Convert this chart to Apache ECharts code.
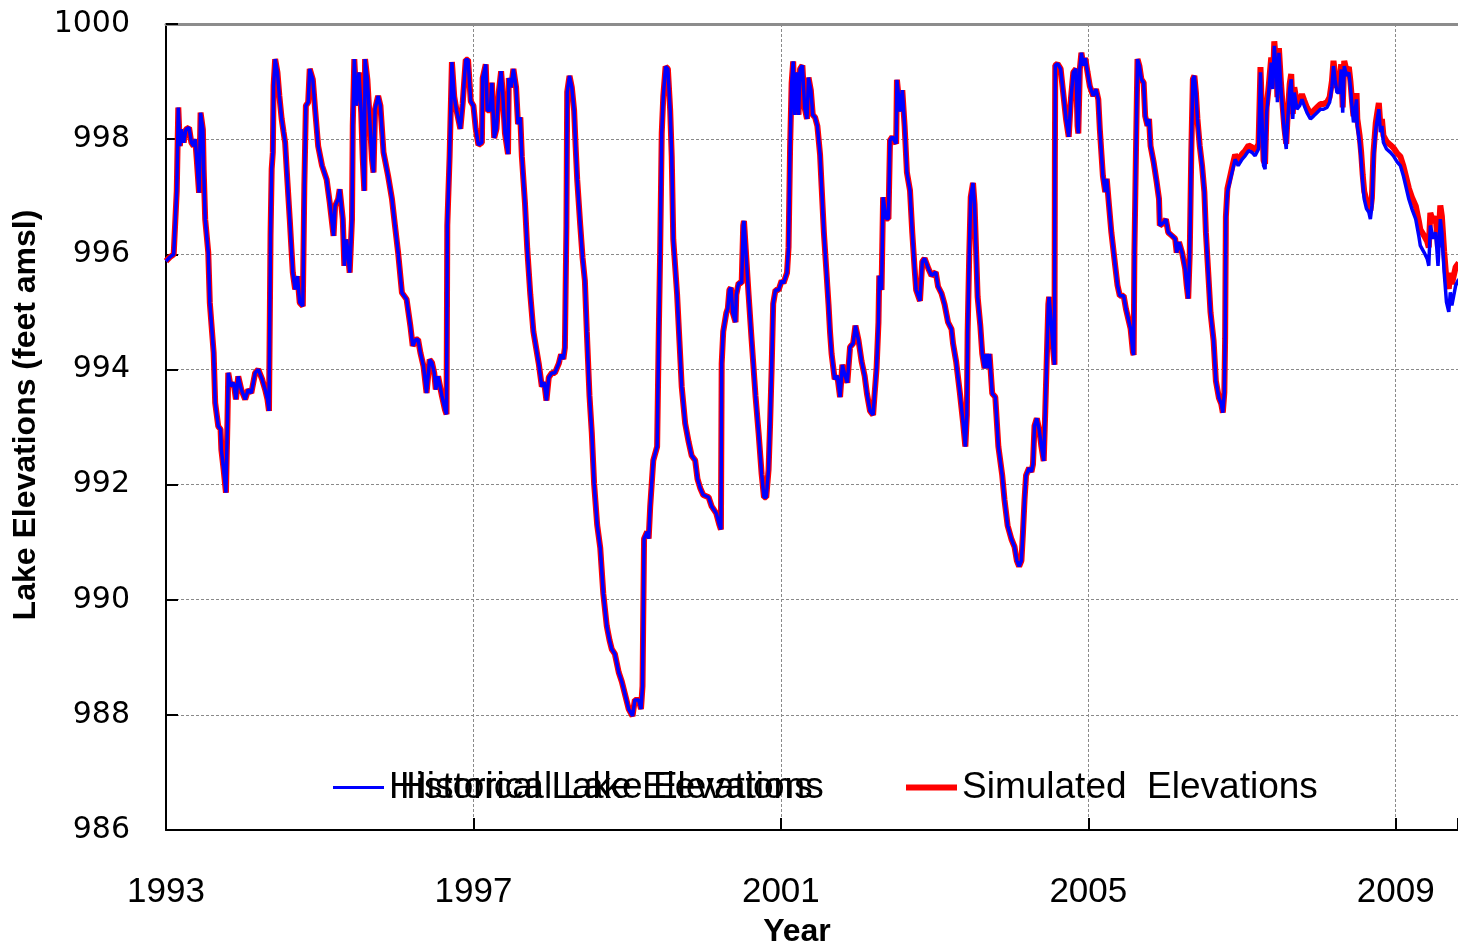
<!DOCTYPE html>
<html>
<head>
<meta charset="utf-8">
<script src="https://cdn.jsdelivr.net/npm/echarts@6/dist/echarts.min.js"></script>
<style>html,body{margin:0;padding:0;background:#fff}#c{width:1458px;height:946px}</style>
</head>
<body>
<div id="c"></div>
<script>
// Decimal years of the sampled points
const years = [
1993.00,1993.05,1993.10,1993.12,1993.14,1993.16,1993.18,1993.20,1993.23,1993.26,
1993.30,1993.33,1993.36,1993.38,1993.40,1993.43,1993.45,1993.48,1993.49,1993.51,
1993.55,1993.57,1993.62,1993.64,1993.68,1993.71,1993.72,1993.75,1993.78,1993.80,
1993.81,1993.84,1993.88,1993.91,1993.94,1993.98,1994.03,1994.07,1994.11,1994.16,
1994.20,1994.25,1994.29,1994.32,1994.34,1994.36,1994.375,1994.39,1994.40,1994.42,
1994.45,1994.475,1994.505,1994.53,1994.55,1994.57,1994.61,1994.65,1994.68,1994.71,
1994.74,1994.78,1994.80,1994.82,1994.85,1994.87,1994.91,1994.94,1994.98,1995.03,
1995.09,1995.13,1995.18,1995.20,1995.24,1995.26,1995.30,1995.32,1995.35,1995.39,
1995.42,1995.43,1995.45,1995.48,1995.51,1995.54,1995.56,1995.58,1995.59,1995.62,
1995.65,1995.68,1995.70,1995.72,1995.76,1995.79,1995.83,1995.89,1995.94,1995.98,
1996.02,1996.07,1996.13,1996.18,1996.21,1996.25,1996.28,1996.31,1996.35,1996.39,
1996.43,1996.46,1996.49,1996.51,1996.54,1996.59,1996.63,1996.65,1996.66,1996.69,
1996.72,1996.75,1996.78,1996.83,1996.86,1996.90,1996.93,1996.965,1997.00,1997.03,
1997.065,1997.11,1997.12,1997.16,1997.18,1997.22,1997.24,1997.27,1997.30,1997.33,
1997.36,1997.38,1997.41,1997.45,1997.46,1997.49,1997.52,1997.555,1997.58,1997.61,
1997.63,1997.67,1997.70,1997.74,1997.78,1997.85,1997.89,1997.92,1997.95,1997.98,
1998.02,1998.06,1998.11,1998.14,1998.17,1998.19,1998.21,1998.22,1998.25,1998.28,
1998.31,1998.33,1998.35,1998.39,1998.42,1998.45,1998.475,1998.51,1998.54,1998.57,
1998.61,1998.65,1998.69,1998.735,1998.77,1998.80,1998.84,1998.89,1998.93,1998.975,
1999.02,1999.07,1999.10,1999.15,1999.18,1999.20,1999.22,1999.26,1999.28,1999.30,
1999.32,1999.34,1999.39,1999.41,1999.43,1999.45,1999.47,1999.50,1999.53,1999.56,
1999.58,1999.60,1999.65,1999.68,1999.71,1999.755,1999.80,1999.84,1999.885,1999.915,
1999.95,1999.99,2000.06,2000.10,2000.16,2000.20,2000.22,2000.23,2000.25,2000.29,
2000.31,2000.33,2000.35,2000.375,2000.41,2000.42,2000.45,2000.49,2000.51,2000.52,
2000.55,2000.58,2000.62,2000.67,2000.71,2000.75,2000.78,2000.81,2000.84,2000.86,
2000.88,2000.90,2000.93,2000.97,2001.01,2001.035,2001.08,2001.10,2001.12,2001.14,
2001.16,2001.18,2001.21,2001.23,2001.25,2001.28,2001.31,2001.34,2001.36,2001.39,
2001.415,2001.445,2001.475,2001.51,2001.53,2001.56,2001.59,2001.62,2001.64,2001.66,
2001.70,2001.735,2001.77,2001.80,2001.835,2001.865,2001.90,2001.94,2001.97,2002.01,
2002.05,2002.09,2002.12,2002.16,2002.20,2002.22,2002.245,2002.27,2002.28,2002.31,
2002.33,2002.37,2002.40,2002.42,2002.45,2002.50,2002.51,2002.55,2002.58,2002.61,
2002.64,2002.68,2002.71,2002.74,2002.76,2002.81,2002.84,2002.87,2002.92,2002.96,
2003.015,2003.045,2003.09,2003.13,2003.175,2003.22,2003.24,2003.28,2003.33,2003.37,
2003.40,2003.42,2003.43,2003.45,2003.47,2003.50,2003.52,2003.54,2003.56,2003.595,
2003.62,2003.65,2003.67,2003.69,2003.715,2003.75,2003.79,2003.83,2003.88,2003.91,
2003.95,2004.00,2004.04,2004.07,2004.10,2004.13,2004.15,2004.17,2004.19,2004.23,
2004.26,2004.28,2004.30,2004.33,2004.36,2004.39,2004.42,2004.44,2004.46,2004.48,
2004.49,2004.52,2004.54,2004.56,2004.565,2004.57,2004.60,2004.64,2004.66,2004.69,
2004.71,2004.745,2004.775,2004.805,2004.84,2004.86,2004.87,2004.89,2004.91,2004.935,
2004.96,2004.99,2005.02,2005.065,2005.10,2005.13,2005.15,2005.19,2005.22,2005.24,
2005.27,2005.30,2005.35,2005.38,2005.41,2005.46,2005.49,2005.52,2005.55,2005.58,
2005.59,2005.60,2005.62,2005.64,2005.665,2005.69,2005.72,2005.74,2005.77,2005.79,
2005.81,2005.85,2005.89,2005.92,2005.93,2005.98,2006.01,2006.04,2006.09,2006.13,
2006.15,2006.18,2006.22,2006.26,2006.28,2006.30,2006.32,2006.34,2006.36,2006.38,
2006.40,2006.42,2006.45,2006.48,2006.51,2006.53,2006.56,2006.59,2006.63,2006.66,
2006.70,2006.73,2006.75,2006.77,2006.78,2006.79,2006.81,2006.85,2006.88,2006.91,
2006.95,2007.00,2007.04,2007.085,2007.13,2007.17,2007.215,2007.24,2007.26,2007.28,
2007.30,2007.32,2007.35,2007.38,2007.40,2007.42,2007.45,2007.46,2007.48,2007.505,
2007.53,2007.55,2007.575,2007.59,2007.62,2007.64,2007.66,2007.68,2007.715,2007.75,
2007.78,2007.81,2007.845,2007.89,2007.93,2007.975,2008.02,2008.06,2008.105,2008.14,
2008.17,2008.19,2008.21,2008.235,2008.27,2008.29,2008.31,2008.33,2008.36,2008.39,
2008.41,2008.43,2008.45,2008.49,2008.50,2008.53,2008.55,2008.57,2008.59,2008.62,
2008.65,2008.67,2008.69,2008.71,2008.74,2008.76,2008.78,2008.80,2008.82,2008.84,
2008.88,2008.93,2008.97,2009.02,2009.06,2009.10,2009.13,2009.17,2009.21,2009.26,
2009.30,2009.32,2009.37,2009.41,2009.43,2009.45,2009.49,2009.52,2009.55,2009.58,
2009.60,2009.63,2009.66,2009.69,2009.71,2009.73,2009.78,2009.82
];

// Historical Lake Elevations (feet amsl)
const historical = [
995.88,995.95,996.00,996.02,997.10,998.55,997.88,998.17,997.94,998.17,
998.20,997.94,997.88,998.00,997.65,997.07,998.46,998.17,997.48,996.61,
996.03,995.16,994.29,993.42,993.01,992.96,992.61,992.26,991.86,993.13,
993.94,993.71,993.77,993.48,993.88,993.65,993.48,993.65,993.59,993.94,
994.00,993.83,993.65,993.48,993.28,996.32,997.48,997.77,998.93,999.39,
999.16,998.75,998.35,998.12,997.94,997.48,996.61,995.68,995.39,995.62,
995.16,995.10,997.19,998.58,998.64,999.22,999.04,998.52,997.88,997.54,
997.30,996.90,996.32,996.84,996.96,997.13,996.61,995.80,996.26,995.68,
996.61,998.23,999.39,998.58,999.16,998.46,997.65,997.10,999.39,999.04,
998.35,997.65,997.42,998.52,998.75,998.58,997.77,997.36,996.96,996.49,
996.03,995.33,995.22,994.75,994.41,994.52,994.52,994.29,994.06,993.59,
994.17,994.12,993.94,993.65,993.88,993.54,993.30,993.22,996.50,997.70,
999.34,998.74,998.50,998.18,998.62,999.38,999.38,998.66,998.58,998.18,
997.90,997.94,999.06,999.30,998.50,998.50,998.98,998.02,998.18,998.82,
999.18,998.82,998.10,997.74,999.06,998.90,999.22,998.90,998.26,998.38,
997.70,996.90,996.10,995.30,994.66,994.10,993.70,993.78,993.46,993.86,
993.94,993.94,994.10,994.26,994.18,994.38,996.50,998.82,999.10,998.90,
998.50,997.86,997.30,996.50,995.94,995.54,994.66,993.54,992.90,992.02,
991.30,990.90,990.10,989.54,989.30,989.14,989.06,988.74,988.58,988.34,
988.10,987.98,988.26,988.26,988.10,988.50,991.06,991.18,991.06,991.62,
992.02,992.42,992.66,994.50,996.10,998.10,998.74,999.26,999.22,998.50,
997.70,996.26,995.30,994.50,993.70,993.06,992.74,992.50,992.42,992.10,
991.94,991.82,991.78,991.62,991.50,991.30,991.22,994.10,994.66,994.98,
995.06,995.38,995.42,994.98,994.82,995.30,995.50,995.50,996.50,996.58,
995.94,995.30,994.50,993.54,992.90,992.18,991.78,991.78,992.26,993.06,
994.02,995.14,995.38,995.38,995.54,995.50,995.68,996.12,997.86,998.97,
999.35,998.42,999.16,998.42,999.22,999.28,998.54,998.35,999.07,998.85,
998.42,998.38,998.23,997.73,997.18,996.37,995.75,995.13,994.64,994.27,
993.83,993.89,993.52,994.08,993.89,993.77,994.39,994.45,994.76,994.51,
994.14,993.89,993.58,993.28,993.21,993.58,994.02,994.82,995.63,995.38,
996.99,996.62,996.62,997.98,998.04,997.92,999.03,998.48,998.85,998.23,
997.42,997.11,996.37,995.75,995.38,995.19,995.87,995.93,995.75,995.63,
995.69,995.44,995.32,995.13,994.82,994.70,994.45,994.14,993.58,993.09,
992.66,993.21,994.64,995.94,996.99,997.24,996.87,996.06,995.26,994.76,
994.27,994.02,994.27,994.02,994.27,993.58,993.52,992.66,992.16,991.73,
991.29,991.05,990.92,990.68,990.58,990.68,991.17,991.73,992.16,992.29,
992.22,992.35,993.02,993.15,992.96,992.66,992.41,993.28,994.20,995.13,
995.26,994.76,994.39,994.08,997.61,999.28,999.31,999.22,998.97,998.60,
998.35,998.04,998.72,999.16,999.22,998.23,998.10,999.22,999.50,999.28,
999.41,999.16,998.92,998.75,998.87,998.69,998.17,997.36,997.08,997.31,
996.84,996.38,995.80,995.46,995.28,995.28,995.05,994.88,994.71,994.30,
994.25,996.03,997.77,999.39,999.27,999.04,998.98,998.40,998.23,998.35,
997.88,997.60,997.25,996.96,996.50,996.55,996.61,996.38,996.32,996.27,
996.03,996.21,996.03,995.75,995.46,995.23,996.03,997.77,999.04,999.10,
998.81,998.35,997.88,997.54,997.08,996.38,995.69,994.99,994.50,993.80,
993.50,993.40,993.25,993.60,994.53,996.61,997.08,997.31,997.48,997.65,
997.54,997.65,997.71,997.80,997.77,997.71,997.83,999.16,998.35,997.54,
997.48,998.46,998.87,999.33,998.87,999.62,999.10,998.64,999.50,998.92,
998.46,998.12,997.83,998.23,998.87,999.04,998.35,998.81,998.52,998.58,
998.69,998.58,998.46,998.35,998.40,998.46,998.52,998.52,998.55,998.64,
998.92,999.27,999.04,998.81,998.81,999.21,998.46,999.27,999.10,999.16,
998.92,998.58,998.29,998.69,998.23,997.94,997.65,997.25,996.96,996.79,
996.73,996.61,996.84,997.65,998.17,998.35,998.52,998.12,998.23,997.94,
997.83,997.77,997.71,997.60,997.54,997.36,997.19,996.96,996.79,996.61,
996.32,996.15,996.03,995.92,995.80,996.50,996.27,996.38,995.80,996.61,
996.38,995.69,995.17,995.00,995.34,995.11,995.46,995.57
];

// Simulated Elevations (feet amsl)
const simulated = [
995.88,995.95,996.00,996.02,997.10,998.55,997.88,998.17,997.94,998.17,
998.20,997.94,997.88,998.00,997.65,997.07,998.46,998.17,997.48,996.61,
996.03,995.16,994.29,993.42,993.01,992.96,992.61,992.26,991.86,993.13,
993.94,993.71,993.77,993.48,993.88,993.65,993.48,993.65,993.59,993.94,
994.00,993.83,993.65,993.48,993.28,996.32,997.48,997.77,998.93,999.39,
999.16,998.75,998.35,998.12,997.94,997.48,996.61,995.68,995.39,995.62,
995.16,995.10,997.19,998.58,998.64,999.22,999.04,998.52,997.88,997.54,
997.30,996.90,996.32,996.84,996.96,997.13,996.61,995.80,996.26,995.68,
996.61,998.23,999.39,998.58,999.16,998.46,997.65,997.10,999.39,999.04,
998.35,997.65,997.42,998.52,998.75,998.58,997.77,997.36,996.96,996.49,
996.03,995.33,995.22,994.75,994.41,994.52,994.52,994.29,994.06,993.59,
994.17,994.12,993.94,993.65,993.88,993.54,993.30,993.22,996.50,997.70,
999.34,998.74,998.50,998.18,998.62,999.38,999.38,998.66,998.58,998.18,
997.90,997.94,999.06,999.30,998.50,998.50,998.98,998.02,998.18,998.82,
999.18,998.82,998.10,997.74,999.06,998.90,999.22,998.90,998.26,998.38,
997.70,996.90,996.10,995.30,994.66,994.10,993.70,993.78,993.46,993.86,
993.94,993.94,994.10,994.26,994.18,994.38,996.50,998.82,999.10,998.90,
998.50,997.86,997.30,996.50,995.94,995.54,994.66,993.54,992.90,992.02,
991.30,990.90,990.10,989.54,989.30,989.14,989.06,988.74,988.58,988.34,
988.10,987.98,988.26,988.26,988.10,988.50,991.06,991.18,991.06,991.62,
992.02,992.42,992.66,994.50,996.10,998.10,998.74,999.26,999.22,998.50,
997.70,996.26,995.30,994.50,993.70,993.06,992.74,992.50,992.42,992.10,
991.94,991.82,991.78,991.62,991.50,991.30,991.22,994.10,994.66,994.98,
995.06,995.38,995.42,994.98,994.82,995.30,995.50,995.50,996.50,996.58,
995.94,995.30,994.50,993.54,992.90,992.18,991.78,991.78,992.26,993.06,
994.02,995.14,995.38,995.38,995.54,995.50,995.68,996.12,997.86,998.97,
999.35,998.42,999.16,998.42,999.22,999.28,998.54,998.35,999.07,998.85,
998.42,998.38,998.23,997.73,997.18,996.37,995.75,995.13,994.64,994.27,
993.83,993.89,993.52,994.08,993.89,993.77,994.39,994.45,994.76,994.51,
994.14,993.89,993.58,993.28,993.21,993.58,994.02,994.82,995.63,995.38,
996.99,996.62,996.62,997.98,998.04,997.92,999.03,998.48,998.85,998.23,
997.42,997.11,996.37,995.75,995.38,995.19,995.87,995.93,995.75,995.63,
995.69,995.44,995.32,995.13,994.82,994.70,994.45,994.14,993.58,993.09,
992.66,993.21,994.64,995.94,996.99,997.24,996.87,996.06,995.26,994.76,
994.27,994.02,994.27,994.02,994.27,993.58,993.52,992.66,992.16,991.73,
991.29,991.05,990.92,990.68,990.58,990.68,991.17,991.73,992.16,992.29,
992.22,992.35,993.02,993.15,992.96,992.66,992.41,993.28,994.20,995.13,
995.26,994.76,994.39,994.08,997.61,999.28,999.31,999.22,998.97,998.60,
998.35,998.04,998.72,999.16,999.22,998.23,998.10,999.22,999.50,999.28,
999.41,999.16,998.92,998.75,998.87,998.69,998.17,997.36,997.08,997.31,
996.84,996.38,995.80,995.46,995.28,995.28,995.05,994.88,994.71,994.30,
994.25,996.03,997.77,999.39,999.27,999.04,998.98,998.40,998.23,998.35,
997.88,997.60,997.25,996.96,996.50,996.55,996.61,996.38,996.32,996.27,
996.03,996.21,996.03,995.75,995.46,995.23,996.03,997.77,999.04,999.10,
998.81,998.35,997.88,997.54,997.08,996.38,995.69,994.99,994.50,993.80,
993.50,993.40,993.25,993.60,994.53,996.65,997.14,997.38,997.56,997.73,
997.63,997.74,997.80,997.89,997.86,997.80,997.92,999.25,998.44,997.63,
997.57,998.55,998.96,999.42,998.96,999.70,999.19,998.73,999.58,999.01,
998.55,998.21,997.92,998.32,998.96,999.13,998.44,998.90,998.61,998.67,
998.78,998.67,998.55,998.44,998.49,998.55,998.61,998.61,998.64,998.73,
999.01,999.36,999.13,998.90,998.90,999.30,998.55,999.36,999.19,999.25,
999.01,998.68,998.40,998.80,998.35,998.06,997.77,997.38,997.09,996.93,
996.88,996.76,996.98,997.76,998.28,998.46,998.63,998.24,998.35,998.06,
997.96,997.90,997.85,997.75,997.70,997.53,997.37,997.15,996.99,996.84,
996.58,996.43,996.32,996.22,996.12,996.72,996.55,996.66,996.12,996.85,
996.66,996.05,995.55,995.40,995.68,995.48,995.78,995.85
];

const seriesNames = ['Historical Lake Elevations', 'Simulated  Elevations'];
const xStartYear = 1993;
const xEndYear = 2009.81;
const xTickStep = 4;
const yMin = 986, yMax = 1000, yStep = 2;

const toPairs = vals => years.map((y, i) => [y - xStartYear, vals[i]]);
const sans = '"Liberation Sans", Arial, sans-serif';
const gridDash = { color: '#8a8a8a', width: 1, type: [3, 2] };

const chart = echarts.init(document.getElementById('c'), null, { renderer: 'canvas' });
chart.setOption({
  animation: false,
  backgroundColor: '#ffffff',
  grid: { left: 166, right: 0, top: 24, bottom: 116, containLabel: false, outerBoundsMode: 'none' },
  xAxis: [{
    type: 'value', min: 0, max: xEndYear - xStartYear, interval: xTickStep,
    name: 'Year', nameLocation: 'middle', nameGap: 86,
    nameTextStyle: { fontFamily: sans, fontWeight: 'bold', fontSize: 32, color: '#000', padding: [0, 30, 0, 0] },
    axisLine: { show: true, onZero: false, lineStyle: { color: '#000', width: 2 } },
    axisTick: { show: true, inside: true, length: 12, lineStyle: { color: '#000', width: 2 } },
    axisLabel: {
      show: true, margin: 45, color: '#000', fontFamily: sans, fontSize: 35,
      formatter: v => (Math.abs(v % xTickStep) < 1e-6 ? String(Math.round(v + xStartYear)) : '')
    },
    splitLine: { show: true, lineStyle: gridDash }
  }, {
    type: 'value', position: 'top', min: 0, max: xEndYear - xStartYear,
    axisLine: { show: true, onZero: false, lineStyle: { color: '#8c8c8c', width: 3 } },
    axisTick: { show: false }, axisLabel: { show: false }, splitLine: { show: false }
  }],
  yAxis: {
    type: 'value', min: yMin, max: yMax, interval: yStep,
    name: 'Lake Elevations (feet amsl)', nameLocation: 'middle', nameGap: 124, nameRotate: 90,
    nameTextStyle: { fontFamily: sans, fontWeight: 'bold', fontSize: 32, color: '#000', padding: [0, 0, 0, 24] },
    axisLine: { show: true, lineStyle: { color: '#000', width: 2 } },
    axisTick: { show: true, inside: true, length: 12, lineStyle: { color: '#000', width: 2 } },
    axisLabel: {
      margin: 36, color: '#000', fontFamily: '"DejaVu Sans", Verdana, sans-serif', fontSize: 30,
      formatter: v => String(v)
    },
    splitLine: { show: true, lineStyle: gridDash }
  },
  legend: [{
    data: [seriesNames[0]], left: 333, top: 769, padding: 0,
    icon: 'rect', itemWidth: 51, itemHeight: 3,
    textStyle: { fontFamily: sans, fontSize: 37, color: '#000' },
    selectedMode: false
  }, {
    data: [seriesNames[1]], left: 906, top: 769, padding: 0,
    icon: 'rect', itemWidth: 51, itemHeight: 6,
    textStyle: { fontFamily: sans, fontSize: 37, color: '#000' },
    selectedMode: false
  }],
  series: [{
    name: seriesNames[1], type: 'line', data: toPairs(simulated),
    showSymbol: false, symbol: 'none', z: 2, clip: true,
    color: '#ff0000', lineStyle: { color: '#ff0000', width: 6 }
  }, {
    name: seriesNames[0], type: 'line', data: toPairs(historical),
    showSymbol: false, symbol: 'none', z: 3, clip: true,
    color: '#0000ff', lineStyle: { color: '#0000ff', width: 3.5 }
  }]
});

// The reference legend shows the historical label printed twice, slightly offset.
const legendTextColor = '#000';
chart.setOption({
  graphic: [{
    type: 'text', x: 400, y: 788, z: 100,
    style: { text: seriesNames[0], font: '37px ' + sans, fill: legendTextColor, verticalAlign: 'middle', align: 'left' }
  }]
});
</script>
</body>
</html>
